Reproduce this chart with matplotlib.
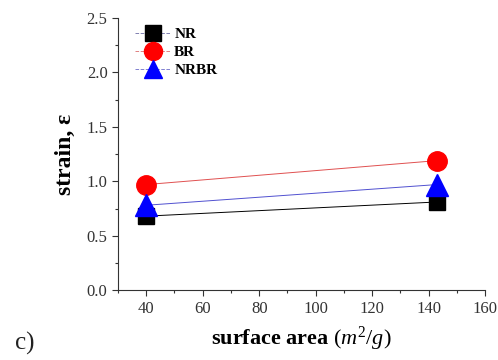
import matplotlib
matplotlib.use("Agg")
import matplotlib.pyplot as plt
from matplotlib.lines import Line2D
from matplotlib.ticker import MultipleLocator, FormatStrFormatter

plt.rcParams['font.family'] = ['Liberation Serif', 'DejaVu Serif']
plt.rcParams['mathtext.fontset'] = 'custom'
plt.rcParams['mathtext.rm'] = 'Liberation Serif'
plt.rcParams['mathtext.it'] = 'Liberation Serif:italic'
plt.rcParams['mathtext.bf'] = 'Liberation Serif:bold'

surface_area = [40, 143]
nr = [0.68, 0.81]
br = [0.97, 1.19]
nrbr = [0.78, 0.97]
br_err = [0.06, 0.03]
series_names = ["NR", "BR", "NRBR"]

fig = plt.figure(figsize=(4.98, 3.6), dpi=100)
ax = fig.add_axes([0.237, 0.194, 0.737, 0.756])

ax.plot(surface_area, nr, color='black', lw=0.7, zorder=1)
ax.plot(surface_area, br, color='#e05050', lw=0.7, zorder=1)
ax.plot(surface_area, nrbr, color='#5050d0', lw=0.7, zorder=1)
ax.errorbar(surface_area, br, yerr=br_err, fmt='none', ecolor='#999999', lw=0.8, zorder=2)

ax.plot(surface_area, nr, ls='none', marker='s', ms=12, color='black', zorder=3)
ax.plot(surface_area, br, ls='none', marker='o', ms=14, color='red', zorder=3)
ax.plot(surface_area, nrbr, ls='none', marker='^', ms=16, color='blue', zorder=4)

ax.set_xlim(30, 160)
ax.set_ylim(0, 2.5)
ax.set_xticks([40, 60, 80, 100, 120, 140, 160])
ax.xaxis.set_minor_locator(MultipleLocator(10))
ax.yaxis.set_major_locator(MultipleLocator(0.5))
ax.yaxis.set_minor_locator(MultipleLocator(0.25))
ax.yaxis.set_major_formatter(FormatStrFormatter('%.1f'))

for s in ['top', 'right']:
    ax.spines[s].set_visible(False)
for s in ['left', 'bottom']:
    ax.spines[s].set_linewidth(0.8)
    ax.spines[s].set_color('#333333')

ax.tick_params(axis='both', which='major', direction='out', length=4, width=0.8,
               labelsize=12, colors='#333333', labelcolor='#333333')
ax.tick_params(axis='both', which='minor', direction='out', length=2.5, width=0.8,
               colors='#333333')

ax.set_xlabel(r'$\mathbf{surface\ area}$ $\mathit{(m^2/g)}$', fontsize=16, labelpad=6)
ax.set_ylabel('strain, ε', fontsize=17, fontweight='bold', labelpad=8)

handles = [
    Line2D([], [], color='#8080b0', ls='--', lw=0.7, marker='s', ms=11,
           markerfacecolor='black', markeredgecolor='black'),
    Line2D([], [], color='#e08080', ls='--', lw=0.7, marker='o', ms=13,
           markerfacecolor='red', markeredgecolor='red'),
    Line2D([], [], color='#8080d0', ls='--', lw=0.7, marker='^', ms=13,
           markerfacecolor='blue', markeredgecolor='blue'),
]
ax.legend(handles, series_names, loc='upper left', bbox_to_anchor=(0.02, 1.0),
          frameon=False, handlelength=2.4, handletextpad=0.2, labelspacing=0.3,
          borderaxespad=0.2, prop={'weight': 'bold', 'size': 11})

fig.text(0.03, 0.03, 'c)', fontsize=18, color='#222222')

fig.savefig('out.png', dpi=100)
